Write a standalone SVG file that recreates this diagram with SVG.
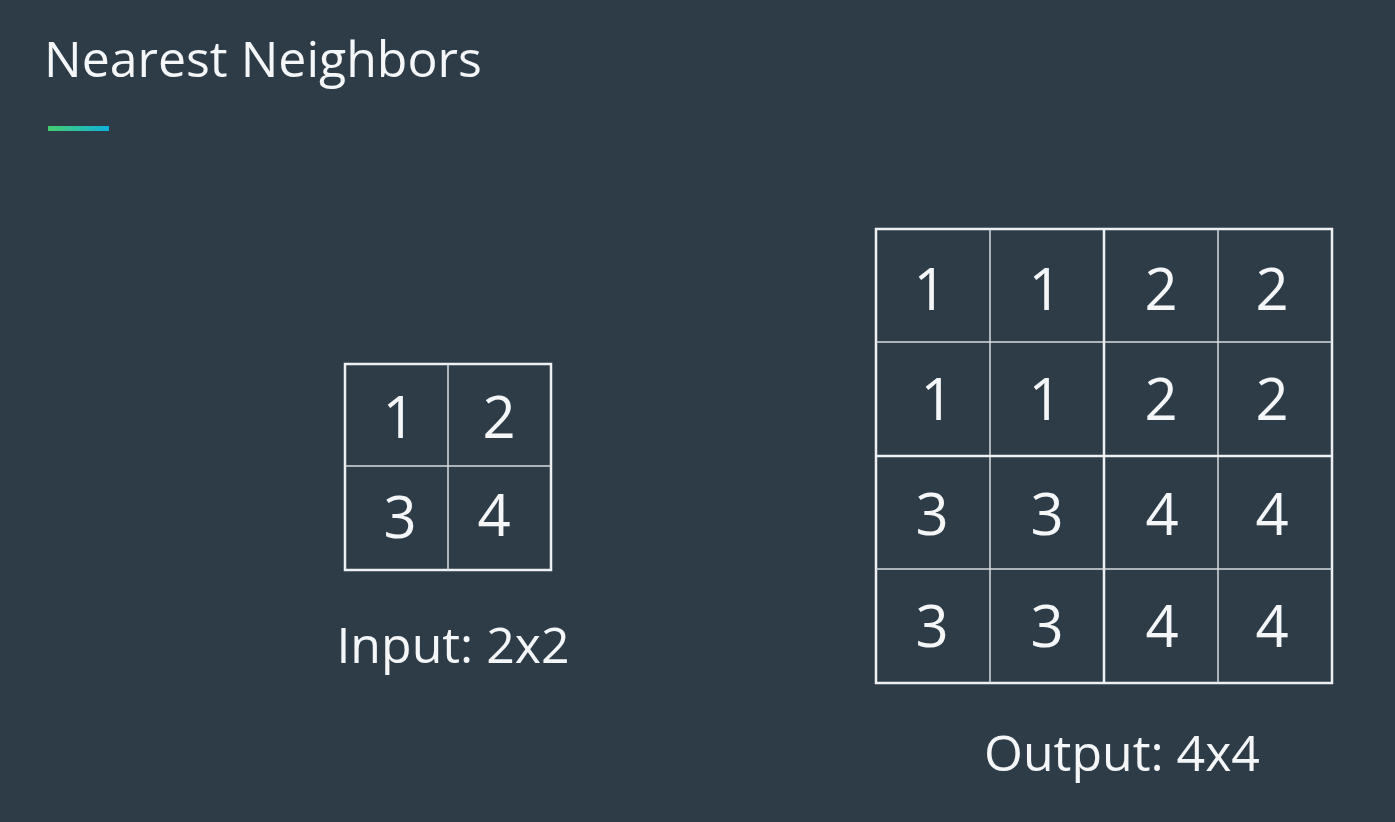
<svg xmlns="http://www.w3.org/2000/svg" width="1395" height="822" viewBox="0 0 1395 822">
<defs>
<linearGradient id="accent" x1="0" y1="0" x2="1" y2="0">
<stop offset="0" stop-color="#44cc6e"/>
<stop offset="0.45" stop-color="#2fc2a0"/>
<stop offset="1" stop-color="#0eb1dc"/>
</linearGradient>
<style>
text{font-family:"Open Sans","Noto Sans","Liberation Sans",sans-serif;fill:#f4f6f7;font-weight:400}
.title{font-size:50px}
.label{font-size:50px;text-anchor:middle}
.num{font-size:58px;text-anchor:middle}
.thin{stroke:#d8dcdf;stroke-width:1.5;fill:none}
.thick{stroke:#eef0f1;stroke-width:2.5;fill:none}
</style>
</defs>
<rect width="1395" height="822" fill="#2e3c48"/>
<text class="title" x="44" y="77">Nearest Neighbors</text>
<rect x="48" y="126" width="61" height="5" fill="url(#accent)"/>

<g id="input">
<rect class="thick" x="345" y="364" width="206" height="206"/>
<line class="thin" x1="448" y1="364" x2="448" y2="570"/>
<line class="thin" x1="345" y1="466" x2="551" y2="466"/>
<text class="num" x="399" y="438">1</text>
<text class="num" x="499" y="438">2</text>
<text class="num" x="400" y="538">3</text>
<text class="num" x="494" y="536">4</text>
<text class="label" x="453" y="663">Input: 2x2</text>
</g>

<g id="output">
<rect class="thick" x="876" y="229" width="456" height="454"/>
<line class="thin" x1="990" y1="229" x2="990" y2="683"/>
<line class="thin" x1="1218" y1="229" x2="1218" y2="683"/>
<line class="thick" x1="1104" y1="229" x2="1104" y2="683"/>
<line class="thin" x1="876" y1="342" x2="1332" y2="342"/>
<line class="thin" x1="876" y1="569" x2="1332" y2="569"/>
<line class="thick" x1="876" y1="456" x2="1332" y2="456"/>
<text class="num" x="930" y="310">1</text>
<text class="num" x="1045" y="310">1</text>
<text class="num" x="1161" y="310">2</text>
<text class="num" x="1272" y="310">2</text>
<text class="num" x="937" y="420">1</text>
<text class="num" x="1045" y="420">1</text>
<text class="num" x="1161" y="420">2</text>
<text class="num" x="1272" y="420">2</text>
<text class="num" x="932" y="535">3</text>
<text class="num" x="1047" y="535">3</text>
<text class="num" x="1162" y="535">4</text>
<text class="num" x="1272" y="535">4</text>
<text class="num" x="932" y="647">3</text>
<text class="num" x="1047" y="647">3</text>
<text class="num" x="1162" y="647">4</text>
<text class="num" x="1272" y="647">4</text>
<text class="label" x="1122" y="771">Output: 4x4</text>
</g>
</svg>
